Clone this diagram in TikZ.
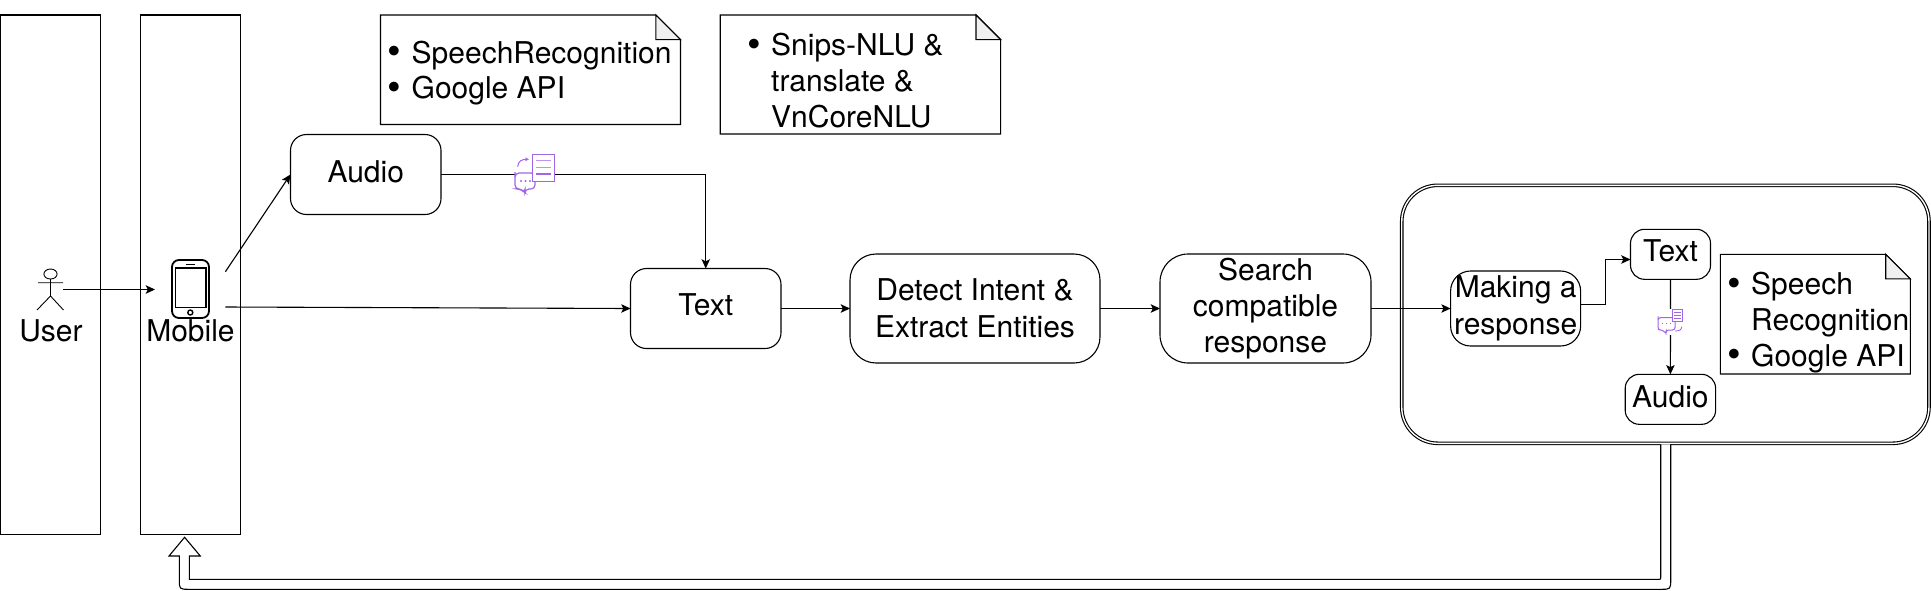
\documentclass[tikz,border=0pt]{standalone}
\usepackage{fontspec}
\setmainfont{TeX Gyre Heros}
\usetikzlibrary{arrows.meta,calc,positioning}
\definecolor{iconpurple}{HTML}{A066E6}
\definecolor{foldgray}{HTML}{F0F0F0}
\newcommand{\bul}{\makebox[11.6pt][l]{\hspace{-0.5pt}\raisebox{-0.9pt}{\scalebox{1.3}{\textbullet}}}}
\newcommand{\nobul}{\makebox[11.6pt][l]{}}
\tikzset{
  line/.style={draw=black,line width=0.55pt},
  flow/.style={line,-{Stealth[length=4.6pt,width=4.2pt,inset=1pt]}},
  lane/.style={line,rectangle,inner sep=0pt,outer sep=0pt,minimum width=50pt,minimum height=259.75pt},
  box/.style={line,rectangle,rounded corners=#1,inner sep=0pt,outer sep=0pt,align=center,font=\lab},
  notebox/.style={rectangle,inner sep=0pt,outer sep=0pt},
  notetext/.style={inner sep=0pt,outer sep=0pt,anchor=west,align=left,font=\lab},
  plain/.style={inner sep=0pt,outer sep=0pt,font=\lab},
  iconline/.style={draw=iconpurple,line width=#1}
}
\newcommand{\lab}{\fontsize{15}{17.9}\selectfont}
\newcommand{\notedraw}[1]{%
  \draw[line] (#1.north west) -- ($(#1.north east)+(-24.6,0)$) -- ($(#1.north east)+(0,24.6)$) -- (#1.south east) -- (#1.south west) -- cycle;
  \draw[line,fill=foldgray] ($(#1.north east)+(-24.6,0)$) -- ($(#1.north east)+(-24.6,24.6)$) -- ($(#1.north east)+(0,24.6)$) -- cycle;
}
\begin{document}
\begin{tikzpicture}[x=0.5pt,y=-0.5pt]
\useasboundingbox (0,0) rectangle (1931,590);
% lanes
\node[lane] (userlane) at (50.5,274.75) {};
\node[lane] (mobilelane) at (190.3,274.75) {};
% notes
\node[notebox,minimum width=150pt,minimum height=54.75pt] (n1) at (530.5,69.75) {};
\node[notebox,minimum width=140.2pt,minimum height=59.5pt] (n2) at (860.4,74.5) {};
\notedraw{n1}
\notedraw{n2}
\node[notetext] (n1t) at (388.5,73) {\bul SpeechRecognition\\\bul Google API};
\node[notetext] (n2t) at (748,80.5) {\bul Snips-NLU \&\\\nobul translate \&\\\nobul VnCoreNLU};
% boxes
\node[box=8pt,minimum width=75.25pt,minimum height=40pt] (audio) at (365.75,174.5) {\raisebox{3.3pt}{Audio}};
\node[box=8pt,minimum width=75.25pt,minimum height=40pt] (textbox) at (705.75,308.5) {\raisebox{3.7pt}{Text}};
\node[box=13pt,minimum width=125pt,minimum height=54.5pt] (detect) at (975,308.5) {\raisebox{0.4pt}{Detect Intent \&}\\Extract Entities};
\node[box=14pt,minimum width=105.5pt,minimum height=54.5pt] (search) at (1265.5,308.5) {\raisebox{0.5pt}{Search}\\\raisebox{0.5pt}{compatible}\\\raisebox{0.5pt}{response}};
% big double box
\node[line,rectangle,double,double distance=0.7pt,rounded corners=18pt,inner sep=0pt,outer sep=0pt,minimum width=263.6pt,minimum height=129pt] (big) at (1665.35,314.3) {};
\node[box=10pt,minimum width=65pt,minimum height=37.5pt] (making) at (1515.6,308.5) {\raisebox{0.4pt}{Making a}\\response};
\node[box=7pt,minimum width=40pt,minimum height=25pt] (rtext) at (1670.5,254.3) {\raisebox{3.4pt}{Text}};
\node[box=7pt,minimum width=45.2pt,minimum height=25pt] (raudio) at (1670.4,399.3) {\raisebox{2.9pt}{Audio}};
\node[notebox,minimum width=95pt,minimum height=59.85pt] (n3) at (1815.35,314.15) {};
\notedraw{n3}
\node[notetext] (n3t) at (1728,322.3) {\bul Speech\\\nobul Recognition\\\bul Google API};
% actor
\coordinate (head) at (50.5,274);
\coordinate (neck) at (50.5,279);
\coordinate (hip) at (50.5,296);
\coordinate (handL) at (38,282.7);
\coordinate (handR) at (63,282.7);
\coordinate (footL) at (37,310);
\coordinate (footR) at (63.5,310);
\draw[line,line width=0.45pt] (head) ellipse [x radius=3.3pt,y radius=2.5pt];
\draw[line,line width=0.45pt] (neck) -- (hip) (handL) -- (handR) (footL) -- (hip) -- (footR);
\node[plain,anchor=base] (userlabel) at (51,341) {User};
% phone
\coordinate (phoneNW) at (172,260);
\coordinate (phoneSE) at (209,318);
\draw[draw=black,line width=0.9pt,rounded corners=3.5pt] (phoneNW) rectangle (phoneSE);
\coordinate (screenNW) at (175.5,267.7);
\coordinate (screenSE) at (205.7,307.3);
\draw[draw=black,line width=0.8pt] (screenNW) rectangle (screenSE);
\coordinate (spkL) at (186,264.3);
\coordinate (spkR) at (194.5,264.3);
\draw[draw=black,line width=0.7pt] (spkL) -- (spkR);
\coordinate (btn) at (190.3,312.5);
\draw[draw=black,line width=0.7pt] (btn) circle (1.25pt);
\node[plain,anchor=base] (mobilelabel) at (190.5,341) {Mobile};
% connectors
\coordinate (userout) at (63,289.5);
\coordinate (phonein) at (155,289.5);
\draw[flow] (userout) -- (phonein);
\coordinate (mout1) at (225.4,271.7);
\coordinate (mout2) at (225.4,307);
\draw[flow] (mout1) -- (audio.west);
\draw[flow] (mout2) -- (textbox.west);
\draw[flow] (audio.east) -| (textbox.north);
\draw[flow] (textbox.east) -- (detect.west);
\draw[flow] (detect.east) -- (search.west);
\draw[flow] (search.east) -- (making.west);
\coordinate (mkout) at ($(making.east)+(0,-4)$);
\coordinate (rtin) at ($(rtext.west)+(0,5.2)$);
\coordinate (mkmid) at (1605.2,304.5);
\draw[flow] (mkout) -- (mkmid) |- (rtin);
\draw[flow] (rtext.south) -- (raudio.north);
% icon on audio line
\fill[white] (515,173) rectangle (535,193);
\draw[iconline=0.6pt,rounded corners=2pt] (515,176) -- (515,189) -- (521,189) -- (525,193) -- (525,189) -- (535,189) -- (535,173) -- (515,173) -- cycle;
\fill[iconpurple] (521,181) circle (0.55pt) (525.5,181) circle (0.55pt) (530,181) circle (0.55pt);
\draw[iconline=0.7pt,fill=white] (532.3,154.3) rectangle (554.3,181.7);
\draw[iconline=0.7pt,draw opacity=0.7] (536,160.7) -- (550.7,160.7) (536,167.7) -- (550.7,167.7);
\draw[iconline=0.6pt] (536,174) -- (550.7,174);
\draw[iconline=0.5pt,-{Stealth[length=2pt,width=2pt]}] (517.7,166.7) .. controls (518,161) and (522,159.3) .. (529,159.3);
% icon on text-to-audio line
\fill[white] (1658,309) rectangle (1683,335);
\draw[iconline=0.5pt,rounded corners=1.3pt] (1658,319) -- (1658,330) -- (1663,330) -- (1666,334) -- (1666,330) -- (1675,330) -- (1675,317.7) -- (1658,317.7) -- cycle;
\fill[iconpurple] (1662.5,323.5) circle (0.35pt) (1666.5,323.5) circle (0.35pt) (1670.5,323.5) circle (0.35pt);
\draw[iconline=0.5pt,fill=white] (1672,309) rectangle (1682.7,321.7);
\draw[iconline=0.4pt] (1674,312.5) -- (1680.5,312.5) (1674,315.5) -- (1680.5,315.5) (1674,318.5) -- (1680.5,318.5);
\draw[iconline=0.4pt] (1681.7,326.7) .. controls (1681.7,330) and (1679,331) .. (1675,331);
% big hollow arrow
\coordinate (backstart) at (big.south);
\coordinate (backend) at (184.6,537.3);
\draw[line,fill=white] (1660.7,444.3) -- (1660.7,577.3) .. controls (1660.7,579.3) .. (1658.7,579.3) -- (189.3,579.3) -- (189.3,556) -- (200.3,556) -- (backend) -- (169,556) -- (179.3,556) -- (179.3,579.3) .. controls (179.3,589.3) .. (189.3,589.3) -- (1660.7,589.3) .. controls (1670.7,589.3) .. (1670.7,579.3) -- (1670.7,444.3);
\end{tikzpicture}
\end{document}
